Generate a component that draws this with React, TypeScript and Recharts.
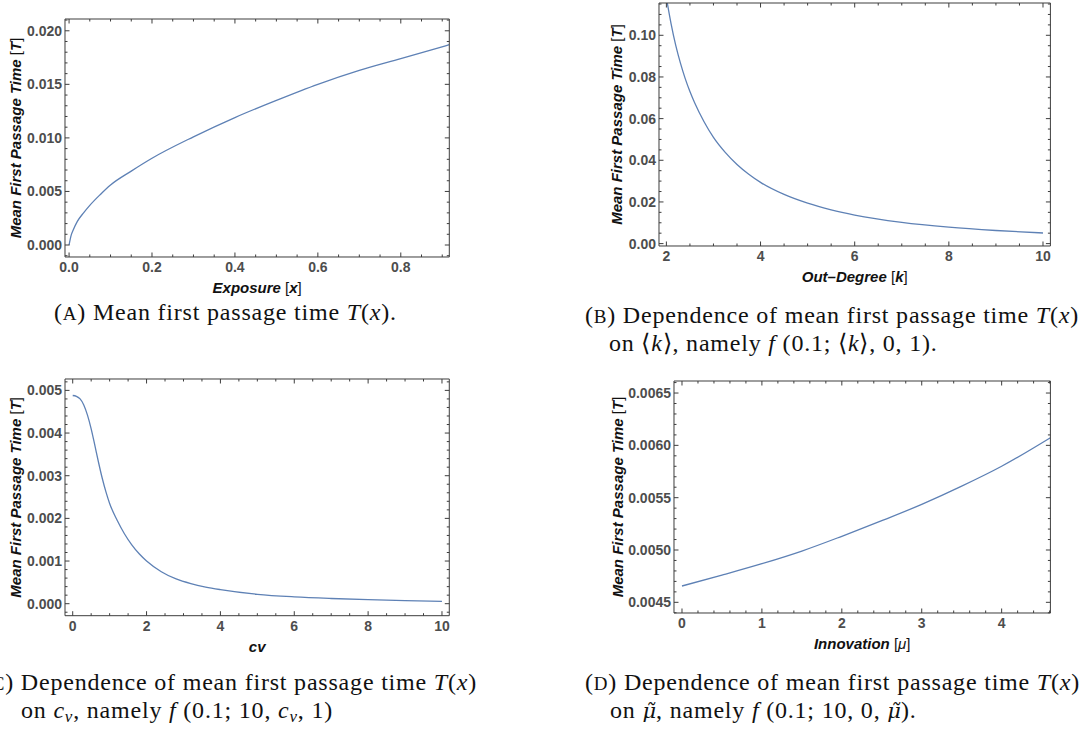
import React from "react";
import { LineChart, Line, XAxis, YAxis } from "recharts";

// values
const exposureX = [0, 0.005, 0.01, 0.02, 0.035, 0.05, 0.075, 0.1, 0.15, 0.2, 0.3, 0.4, 0.5, 0.6, 0.7, 0.8, 0.917];
const exposureT = [0, 0.0009, 0.0014, 0.0022, 0.003, 0.0037, 0.0047, 0.0056, 0.0069, 0.0081, 0.0101, 0.0119, 0.0135, 0.015, 0.0163, 0.0174, 0.0187];

const degreeK = [2, 2.1, 2.2, 2.3, 2.4, 2.5, 2.6, 2.8, 3, 3.25, 3.5, 3.75, 4, 4.5, 5, 5.5, 6, 7, 8, 9, 10];
const degreeT = [0.118, 0.1055, 0.095, 0.0865, 0.0792, 0.073, 0.0676, 0.0585, 0.051, 0.0438, 0.038, 0.0333, 0.0294, 0.0236, 0.0194, 0.0162, 0.0137, 0.0102, 0.0079, 0.0063, 0.0051];

const cvX = [0, 0.1, 0.2, 0.3, 0.4, 0.5, 0.6, 0.7, 0.8, 0.9, 1, 1.2, 1.4, 1.6, 1.8, 2, 2.4, 2.8, 3.2, 3.6, 4, 5, 6, 7, 8, 9, 10];
const cvT = [0.00488, 0.00486, 0.0048, 0.00466, 0.00442, 0.0041, 0.00371, 0.00331, 0.00294, 0.00262, 0.00235, 0.00196, 0.00164, 0.00138, 0.00117, 0.001, 0.00075, 0.00058, 0.00047, 0.00039, 0.00033, 0.00022, 0.00016, 0.000122, 0.000094, 0.000072, 0.000056];

const innovationMu = [0, 0.5, 1, 1.5, 2, 2.5, 3, 3.5, 4, 4.61];
const innovationT = [0.004656, 0.00476, 0.004869, 0.00499, 0.005131, 0.00528, 0.005436, 0.00561, 0.0058, 0.006073];

// major (labelled) ticks
const exposureTicks = [0, 0.2, 0.4, 0.6, 0.8];
const exposureTTicks = [0, 0.005, 0.01, 0.015, 0.02];
const degreeTicks = [2, 4, 6, 8, 10];
const degreeTTicks = [0, 0.02, 0.04, 0.06, 0.08, 0.1];
const cvTicks = [0, 2, 4, 6, 8, 10];
const cvTTicks = [0, 0.001, 0.002, 0.003, 0.004, 0.005];
const innovationTicks = [0, 1, 2, 3, 4];
const innovationTTicks = [0.0045, 0.005, 0.0055, 0.006, 0.0065];

const FRAME = "#3c3c3c";
const TICK_TEXT = "#4d4d4d";
const CURVE = "#5e81b5";
const SANS = "'Liberation Sans', Arial, sans-serif";
const SERIF = "'Liberation Serif', 'Times New Roman', serif";

const MAJOR_LEN = 4.5;
const MINOR_LEN = 2.5;

const PAD_L = 70;
const PAD_T = 10;
const PAD_R = 12;
const PAD_B = 50;

function steps(from: number, to: number, step: number): number[] {
  const out: number[] = [];
  const n0 = Math.ceil(from / step - 1e-9);
  const n1 = Math.floor(to / step + 1e-9);
  for (let i = n0; i <= n1; i++) out.push(+(i * step).toFixed(10));
  return out;
}

const isIn = (list: number[], v: number) => list.some((m) => Math.abs(m - v) < 1e-9);

type PanelProps = {
  plot: [number, number, number, number];
  xDomain: [number, number];
  yDomain: [number, number];
  xMajor: number[];
  yMajor: number[];
  xMinor: number;
  yMinor: number;
  xDec: number;
  yDec: number;
  xs: number[];
  ys: number[];
  xTitle: React.ReactNode;
  yTitleX: number;
};

const bold = { fontWeight: 700, fontStyle: "italic" } as const;

const YTitle = () => (
  <>
    <tspan {...bold}>Mean First Passage Time</tspan>
    <tspan> [</tspan>
    <tspan {...bold}>T</tspan>
    <tspan>]</tspan>
  </>
);

function Panel(p: PanelProps) {
  const [x0, y0, x1, y1] = p.plot;
  const w = x1 - x0 + PAD_L + PAD_R;
  const h = y1 - y0 + PAD_T + PAD_B;
  const data = p.xs.map((x, i) => ({ x, y: p.ys[i] }));
  const xTicks = steps(p.xDomain[0], p.xDomain[1], p.xMinor);
  const yTicks = steps(p.yDomain[0], p.yDomain[1], p.yMinor);

  const bottomTick = (t: any) => {
    const major = isIn(p.xMajor, t.payload.value);
    return (
      <g>
        <line x1={t.x} x2={t.x} y1={t.y} y2={t.y - (major ? MAJOR_LEN : MINOR_LEN)} stroke={FRAME} />
        {major && (
          <text x={t.x} y={t.y + 15} textAnchor="middle" fontFamily={SANS} fontWeight={700} fontSize={14} fill={TICK_TEXT}>
            {t.payload.value.toFixed(p.xDec)}
          </text>
        )}
      </g>
    );
  };
  const topTick = (t: any) => {
    const major = isIn(p.xMajor, t.payload.value);
    return <line x1={t.x} x2={t.x} y1={t.y} y2={t.y + (major ? MAJOR_LEN : MINOR_LEN)} stroke={FRAME} />;
  };
  const leftTick = (t: any) => {
    const major = isIn(p.yMajor, t.payload.value);
    return (
      <g>
        <line x1={t.x} x2={t.x + (major ? MAJOR_LEN : MINOR_LEN)} y1={t.y} y2={t.y} stroke={FRAME} />
        {major && (
          <text x={t.x - 3} y={t.y} dy="0.36em" textAnchor="end" fontFamily={SANS} fontWeight={700} fontSize={14} fill={TICK_TEXT}>
            {t.payload.value.toFixed(p.yDec)}
          </text>
        )}
      </g>
    );
  };
  const rightTick = (t: any) => {
    const major = isIn(p.yMajor, t.payload.value);
    return <line x1={t.x} x2={t.x - (major ? MAJOR_LEN : MINOR_LEN)} y1={t.y} y2={t.y} stroke={FRAME} />;
  };

  const yCx = p.yTitleX - (x0 - PAD_L);
  const yCy = (y1 - y0) / 2 + PAD_T;

  return (
    <div style={{ position: "absolute", left: x0 - PAD_L, top: y0 - PAD_T, width: w, height: h }}>
      <LineChart width={w} height={h} data={data} margin={{ top: PAD_T - 1, right: PAD_R - 1, bottom: PAD_B - 30, left: 0 }}>
        <XAxis
          dataKey="x"
          type="number"
          domain={p.xDomain}
          allowDataOverflow
          ticks={xTicks}
          interval={0}
          height={30}
          tickSize={0}
          tickMargin={0}
          tickLine={false}
          axisLine={{ stroke: FRAME }}
          tick={bottomTick}
        />
        <XAxis
          xAxisId="top"
          orientation="top"
          dataKey="x"
          type="number"
          domain={p.xDomain}
          allowDataOverflow
          ticks={xTicks}
          interval={0}
          height={1}
          tickSize={0}
          tickMargin={0}
          tickLine={false}
          axisLine={{ stroke: FRAME }}
          tick={topTick}
        />
        <YAxis
          type="number"
          domain={p.yDomain}
          allowDataOverflow
          ticks={yTicks}
          interval={0}
          width={PAD_L}
          tickSize={0}
          tickMargin={0}
          tickLine={false}
          axisLine={{ stroke: FRAME }}
          tick={leftTick}
        />
        <YAxis
          yAxisId="right"
          orientation="right"
          type="number"
          domain={p.yDomain}
          allowDataOverflow
          ticks={yTicks}
          interval={0}
          width={1}
          tickSize={0}
          tickMargin={0}
          tickLine={false}
          axisLine={{ stroke: FRAME }}
          tick={rightTick}
        />
        <Line type="monotone" dataKey="y" stroke={CURVE} strokeWidth={1.3} dot={false} isAnimationActive={false} />
      </LineChart>
      <svg width={w} height={h} style={{ position: "absolute", left: 0, top: 0, pointerEvents: "none" }}>
        <text
          x={yCx + 5}
          y={yCy}
          textAnchor="middle"
          transform={`rotate(-90 ${yCx + 5} ${yCy})`}
          fontFamily={SANS}
          fontSize={15}
          fill="#111"
        >
          <YTitle />
        </text>
        <text x={PAD_L + (x1 - x0) / 2} y={PAD_T + (y1 - y0) + 36} textAnchor="middle" fontFamily={SANS} fontSize={15} fill="#111">
          {p.xTitle}
        </text>
      </svg>
    </div>
  );
}

const capStyle = { fontFamily: SERIF, fontSize: 24, letterSpacing: 0.8, fill: "#111" };
const sc = (s: string) => <tspan fontSize={19}>{s}</tspan>;
const it = (s: string) => <tspan fontStyle="italic">{s}</tspan>;
const muTilde = () => (
  <tspan fontFamily="'DejaVu Serif', serif" fontStyle="italic" fontSize={21} letterSpacing={0}>
    {"\u03bc\u0303"}
  </tspan>
);
const Txy = () => (
  <>
    {it("T")}({it("x")})
  </>
);

function Captions() {
  return (
    <svg width={1084} height={731} style={{ position: "absolute", left: 0, top: 0, pointerEvents: "none" }}>
      <text x={54} y={320} {...capStyle}>
        ({sc("A")}) Mean first passage time <Txy />.
      </text>

      <text x={585} y={323} {...capStyle}>
        ({sc("B")}) Dependence of mean first passage time <Txy />
      </text>
      <text x={609} y={351} {...capStyle}>
        on {"\u27e8"}{it("k")}{"\u27e9"}, namely {it("f")} (0.1; {"\u27e8"}{it("k")}{"\u27e9"}, 0, 1).
      </text>

      <text x={-17} y={690} {...capStyle}>
        ({sc("C")}) Dependence of mean first passage time <Txy />
      </text>
      <text x={21} y={718} {...capStyle}>
        on {it("c")}
        <tspan fontStyle="italic" fontSize={17} dy={4}>v</tspan>
        <tspan dy={-4}>, namely </tspan>
        {it("f")} (0.1; 10, {it("c")}
        <tspan fontStyle="italic" fontSize={17} dy={4}>v</tspan>
        <tspan dy={-4}>, 1)</tspan>
      </text>

      <text x={585} y={690} {...capStyle}>
        ({sc("D")}) Dependence of mean first passage time <Txy />
      </text>
      <text x={610} y={718} {...capStyle}>
        on {muTilde()}, namely {it("f")} (0.1; 10, 0, {muTilde()}).
      </text>
    </svg>
  );
}

export default function App() {
  return (
    <div style={{ position: "absolute", left: 0, top: 0, width: 1084, height: 731, background: "#fff", overflow: "hidden" }}>
      <Panel
        plot={[65, 19, 449.3, 257]}
        xDomain={[-0.0098, 0.917]}
        yDomain={[-0.00112, 0.0211]}
        xMajor={exposureTicks}
        yMajor={exposureTTicks}
        xMinor={0.05}
        yMinor={0.001}
        xDec={1}
        yDec={3}
        xs={exposureX}
        ys={exposureT}
        yTitleX={16}
        xTitle={
          <>
            <tspan {...bold}>Exposure</tspan> [<tspan {...bold}>x</tspan>]
          </>
        }
      />
      <Panel
        plot={[659.3, 2.7, 1050.7, 245.7]}
        xDomain={[1.843, 10.157]}
        yDomain={[-0.00115, 0.1155]}
        xMajor={degreeTicks}
        yMajor={degreeTTicks}
        xMinor={0.5}
        yMinor={0.005}
        xDec={0}
        yDec={2}
        xs={degreeK}
        ys={degreeT}
        yTitleX={617.5}
        xTitle={
          <>
            <tspan {...bold}>Out{"\u2013"}Degree</tspan> [<tspan {...bold}>k</tspan>]
          </>
        }
      />
      <Panel
        plot={[65, 379.3, 449.3, 616]}
        xDomain={[-0.2085, 10.198]}
        yDomain={[-0.000281, 0.005267]}
        xMajor={cvTicks}
        yMajor={cvTTicks}
        xMinor={0.5}
        yMinor={0.0002}
        xDec={0}
        yDec={3}
        xs={cvX}
        ys={cvT}
        yTitleX={16}
        xTitle={<tspan {...bold}>cv</tspan>}
      />
      <Panel
        plot={[674.3, 380.7, 1050.7, 612.7]}
        xDomain={[-0.1, 4.61]}
        yDomain={[0.004398, 0.006615]}
        xMajor={innovationTicks}
        yMajor={innovationTTicks}
        xMinor={0.2}
        yMinor={0.0001}
        xDec={0}
        yDec={4}
        xs={innovationMu}
        ys={innovationT}
        yTitleX={618}
        xTitle={
          <>
            <tspan {...bold}>Innovation</tspan> [<tspan fontStyle="italic">{"\u03bc"}</tspan>]
          </>
        }
      />
      <Captions />
    </div>
  );
}
